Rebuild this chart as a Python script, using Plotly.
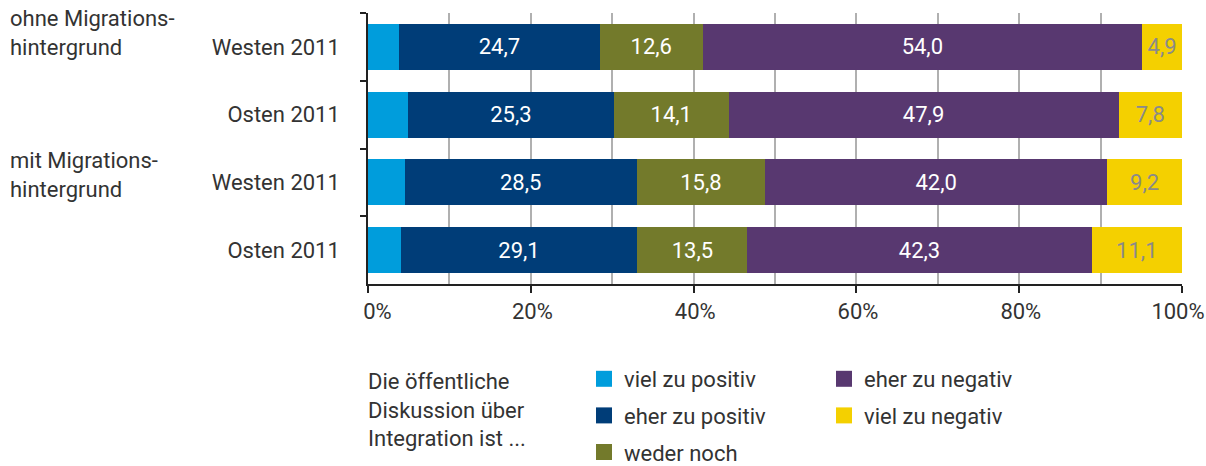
import plotly.graph_objects as go

rows = ["Westen 2011", "Osten 2011", "Westen 2011", "Osten 2011"]
groups = ["ohne Migrations-<br>hintergrund", "mit Migrations-<br>hintergrund"]
series_names = ["viel zu positiv", "eher zu positiv", "weder noch", "eher zu negativ", "viel zu negativ"]
viel_pos = [3.8, 4.9, 4.5, 4.0]
eher_pos = [24.7, 25.3, 28.5, 29.1]
weder = [12.6, 14.1, 15.8, 13.5]
eher_neg = [54.0, 47.9, 42.0, 42.3]
viel_neg = [4.9, 7.8, 9.2, 11.1]
x_tickvals = [0, 20, 40, 60, 80, 100]
x_ticktext = ["\u2003\u20090%", "\u200220%", "\u200240%", "\u200260%", "\u200280%", "100%"]
colors = ["#009ddc", "#003d78", "#737a2b", "#583870", "#f4d000"]
text_colors = ["white", "white", "white", "white", "#8a8a8a"]
legend_title = "Die öffentliche<br>Diskussion über<br>Integration ist ..."

FONT = "Roboto, Liberation Sans, sans-serif"
W, H = 1206, 466
ML, MR, MT, MB = 368, 24, 13, 182
PW, PH = W - ML - MR, H - MT - MB

ypos = list(range(len(rows)))
fig = go.Figure()
all_vals = [viel_pos, eher_pos, weder, eher_neg, viel_neg]
for i, (name, vals) in enumerate(zip(series_names, all_vals)):
    fig.add_trace(go.Bar(
        x=vals, y=ypos, orientation="h", name=name,
        marker=dict(color=colors[i], line=dict(width=0)),
        width=0.68,
        text=None if i == 0 else vals,
        texttemplate=None if i == 0 else "%{x:.1f}",
        textposition="inside", insidetextanchor="middle", textangle=0,
        constraintext="none",
        textfont=dict(family=FONT, size=22, color=text_colors[i]),
        showlegend=False,
        legendgroup=name,
        hoverinfo="skip",
    ))
# legend entries (larger square swatches)
for i, name in enumerate(series_names):
    fig.add_trace(go.Scatter(
        x=[None], y=[None], mode="markers", name=name,
        marker=dict(symbol="square", size=16, color=colors[i]),
        legend="legend" if i < 3 else "legend2",
        legendgroup=name, showlegend=True, hoverinfo="skip",
    ))

def px_x(p):
    return (p - ML) / PW

def px_y(p):
    return 1 - (p - MT) / PH

fig.update_layout(
    width=W, height=H, barmode="stack", separators=",.",
    margin=dict(l=ML, r=MR, t=MT, b=MB, autoexpand=False),
    paper_bgcolor="white", plot_bgcolor="white",
    font=dict(family=FONT, size=22, color="#333333"),
    xaxis=dict(range=[0, 100], tickvals=x_tickvals, ticktext=x_ticktext,
               showgrid=True, automargin=False, ticklabelshift=-4,
               gridcolor="#b0b0b0", gridwidth=1.5, zeroline=False,
               showline=True, linecolor="#222222", linewidth=1.5,
               ticks="outside", ticklen=7, tickcolor="#222222", tickwidth=1.5,
               ticklabeloverflow="allow",
               tickfont=dict(size=22, color="#333333"),
               minor=dict(dtick=10, showgrid=True, gridcolor="#b0b0b0", gridwidth=1.5)),
    yaxis=dict(range=[3.5, -0.5], tickvals=ypos, ticktext=rows, ticks="",
               automargin=False,
               showgrid=False, zeroline=False, showline=True,
               linecolor="#222222", linewidth=1.5, ticklabelstandoff=22,
               tickfont=dict(size=22, color="#333333"),
               minor=dict(tickvals=[-0.5, 0.5, 1.5, 2.5], ticks="outside",
                          ticklen=6, tickcolor="#222222", tickwidth=1.5)),
    legend=dict(x=px_x(584), y=px_y(358), xanchor="left", yanchor="top",
                orientation="v", traceorder="grouped", tracegroupgap=5,
                itemsizing="trace",
                font=dict(size=22, color="#333333"), bgcolor="rgba(0,0,0,0)"),
    legend2=dict(x=px_x(824), y=px_y(358), xanchor="left", yanchor="top",
                 orientation="v", traceorder="grouped", tracegroupgap=5,
                 itemsizing="trace",
                 font=dict(size=22, color="#333333"), bgcolor="rgba(0,0,0,0)"),
    showlegend=True,
)

annotations = [
    dict(text=groups[0], x=px_x(8), y=px_y(4), xref="paper", yref="paper",
         xanchor="left", yanchor="top", align="left", showarrow=False,
         font=dict(size=22, color="#333333")),
    dict(text=groups[1], x=px_x(8), y=px_y(146), xref="paper", yref="paper",
         xanchor="left", yanchor="top", align="left", showarrow=False,
         font=dict(size=22, color="#333333")),
    dict(text=legend_title, x=px_x(366), y=px_y(367), xref="paper", yref="paper",
         xanchor="left", yanchor="top", align="left", showarrow=False,
         font=dict(size=22, color="#333333")),
]
fig.update_layout(annotations=annotations)

fig.write_html("out.html", config={"displayModeBar": False},
               post_script="document.body.style.margin='0px';document.body.style.overflow='hidden';")
